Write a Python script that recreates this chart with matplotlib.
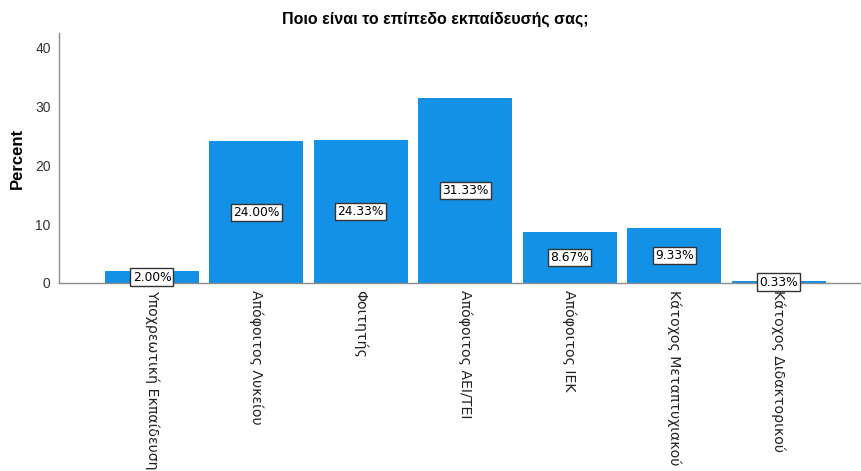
import matplotlib
matplotlib.use('Agg')
import matplotlib.pyplot as plt
import numpy as np

# ── data ─────────────────────────────────────────────────────────────────────
categories = [
    'Υποχρεωτική Εκπαίδευση',
    'Απόφοιτος Λυκείου',
    'Φοιτητής',
    'Απόφοιτος ΑΕΙ/ΤΕΙ',
    'Απόφοιτος ΙΕΚ',
    'Κάτοχος Μεταπτυχιακού',
    'Κάτοχος Διδακτορικού',
]
percents = [2.00, 24.00, 24.33, 31.33, 8.67, 9.33, 0.33]
yticks = [0, 10, 20, 30, 40]

title = 'Ποιο είναι το επίπεδο εκπαίδευσής σας;'
bar_color = '#1391e6'
axis_grey = '#8c8c8c'
arial = 'Liberation Sans'

fig = plt.figure(figsize=(8.62, 4.71), dpi=100)
ax = fig.add_axes([59 / 862, 1 - 283 / 471, 801 / 862, 250 / 471])

x = np.arange(len(categories))
ax.bar(x, percents, width=0.9, color=bar_color, zorder=2)

# value labels in boxes, centred on the bar half height
for xi, v in zip(x, percents):
    ax.text(xi, v / 2, f'{v:.2f}%', ha='center', va='center', fontsize=8.8,
            color='black', zorder=4,
            bbox=dict(boxstyle='square,pad=0.18', facecolor='white',
                      edgecolor='#333333', linewidth=1.0))

ax.set_xlim(-0.89, 6.78)
ax.set_ylim(0, 42.4)
ax.set_yticks(yticks)
ax.set_yticklabels([str(t) for t in yticks], family=arial, fontsize=10,
                   color='#333333')
ax.set_xticks(x)
ax.set_xticklabels(categories, rotation=270, ha='center', va='top',
                   fontsize=10.2, color='#222222')
ax.tick_params(axis='x', length=0, pad=5)
ax.tick_params(axis='y', length=0, pad=6)

for side in ('top', 'right'):
    ax.spines[side].set_visible(False)
for side in ('left', 'bottom'):
    ax.spines[side].set_color(axis_grey)
    ax.spines[side].set_linewidth(1.0)

ax.set_ylabel('Percent', family=arial, fontsize=12, fontweight='bold')
ax.yaxis.set_label_coords(-0.043, 0.5)
fig.text(0.505, 1 - 19 / 471, title, ha='center', va='center',
         family=arial, fontsize=11.5, fontweight='bold')

fig.savefig('out.png', dpi=100)
